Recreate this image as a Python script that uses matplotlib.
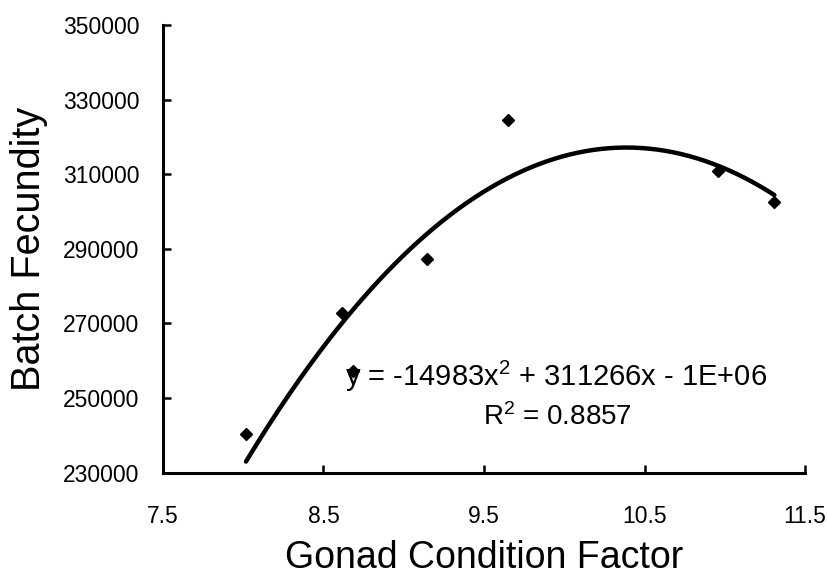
import numpy as np
import matplotlib
matplotlib.use("Agg")
from matplotlib import pyplot as plt

plt.rcParams["font.family"] = ["Liberation Sans", "DejaVu Sans"]
plt.rcParams["mathtext.fontset"] = "custom"
plt.rcParams["mathtext.rm"] = "Liberation Sans"
plt.rcParams["mathtext.it"] = "Liberation Sans"

# Gonad condition factor vs batch fecundity
gcf = [8.017, 8.613, 8.686, 9.145, 9.651, 10.956, 11.309]
fecundity = [240300, 272700, 257350, 287300, 324550, 310900, 302500]

# quadratic trend line coefficients (constant shown rounded as -1E+06)
coef = [-14983, 311266, -1299450]
eq_text = "y = -14983x$^2$ + 311266x - 1E+06"
r2_text = "R$^2$ = 0.8857"

x_ticks = [7.5, 8.5, 9.5, 10.5, 11.5]
y_ticks = [230000, 250000, 270000, 290000, 310000, 330000, 350000]

fig = plt.figure(figsize=(8.29, 5.78), dpi=100)
ax = fig.add_axes([0.1966, 0.1822, 0.7745, 0.7745])

xs = np.linspace(min(gcf), max(gcf), 200)
ax.plot(xs, np.polyval(coef, xs), color="black", lw=3.2, solid_capstyle="round")
ax.plot(gcf, fecundity, "D", color="black", ms=6.2, ls="none")

ax.text(8.634, 255740, eq_text, fontsize=21, va="center", ha="left")
ax.text(9.494, 244850, r2_text, fontsize=20, va="center", ha="left")

ax.set_xlim(7.5, 11.5)
ax.set_ylim(230000, 350000)
ax.set_xticks(x_ticks)
ax.set_xticklabels([str(t) for t in x_ticks])
ax.set_yticks(y_ticks)
ax.set_yticklabels([str(t) for t in y_ticks])

for s in ["top", "right"]:
    ax.spines[s].set_visible(False)
for s in ["left", "bottom"]:
    ax.spines[s].set_linewidth(2.2)

ax.tick_params(direction="in", length=6, width=1.8, labelsize=16.5)
ax.tick_params(axis="x", pad=23)
ax.tick_params(axis="y", pad=17)

ax.set_xlabel("Gonad Condition Factor", fontsize=27, labelpad=9)
ax.set_ylabel("Batch Fecundity", fontsize=28.5, labelpad=11)

fig.savefig("out.png", dpi=100)
